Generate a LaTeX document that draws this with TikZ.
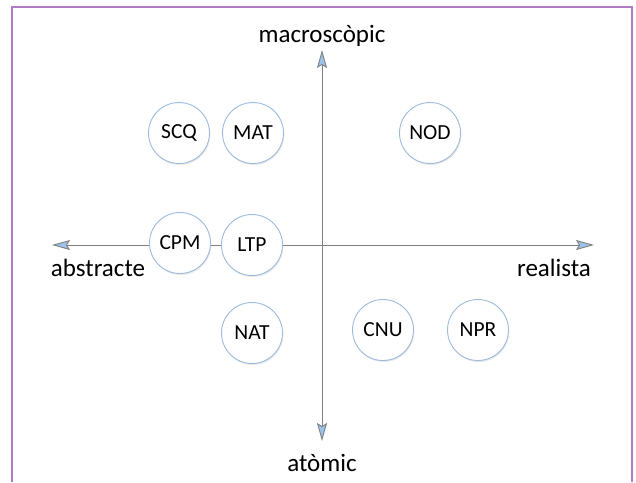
\documentclass[tikz,border=0pt]{standalone}
\usepackage{fontspec}
\setmainfont{Carlito}
\usetikzlibrary{arrows.meta,shadows}
\definecolor{frameP}{HTML}{B07CC6}
\definecolor{axisG}{HTML}{808080}
\definecolor{tipB}{HTML}{9CC2EA}
\definecolor{ringB}{HTML}{9DBBDF}
\tikzset{
  axis/.style={draw=axisG, line width=0.9pt,
    {Stealth[length=18pt,width=10pt,inset=3pt,fill=tipB]}-{Stealth[length=18pt,width=10pt,inset=3pt,fill=tipB]}},
  topic/.style={circle, draw=ringB, line width=0.9pt, fill=white, minimum size=61pt, inner sep=0pt,
    font=\fontsize{21.5}{25}\selectfont,
    drop shadow={shadow xshift=0.8pt, shadow yshift=-1.5pt, opacity=0.18}},
  axlabel/.style={font=\fontsize{25}{28}\selectfont, inner sep=0pt}
}
\begin{document}
\begin{tikzpicture}[x=1pt,y=-1pt]
\useasboundingbox (0,0) rectangle (636,482);
\fill[white] (0,0) rectangle (636,482);
\draw[frameP, line width=1.5pt] (12,482) -- (12,7) -- (632,7) -- (632,482);
\coordinate (L) at (52,245);
\coordinate (R) at (594,245);
\coordinate (T) at (322,50);
\coordinate (B) at (322,441);
\draw[axis] (L) -- (R);
\draw[axis] (B) -- (T);
\node[axlabel] (mac) at (322,36) {macroscòpic};
\node[axlabel] (ato) at (322,463) {atòmic};
\node[axlabel] (abs) at (98,268) {abstracte};
\node[axlabel] (rea) at (554,268) {realista};
\node[topic] (SCQ) at (179,133) {SCQ};
\node[topic] (MAT) at (253,133) {MAT};
\node[topic] (NOD) at (430,133) {NOD};
\node[topic] (CPM) at (180,243) {CPM};
\node[topic] (LTP) at (252,245) {LTP};
\node[topic] (NAT) at (252,333) {NAT};
\node[topic] (CNU) at (383,330) {CNU};
\node[topic] (NPR) at (478,330) {NPR};
\end{tikzpicture}
\end{document}
